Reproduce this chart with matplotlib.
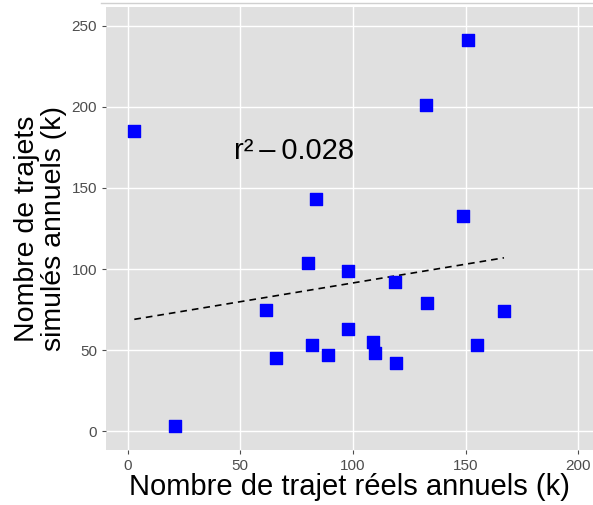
import matplotlib
matplotlib.use('Agg')
import matplotlib.pyplot as plt
import numpy as np

plt.rcParams['font.family'] = ['Liberation Sans', 'DejaVu Sans']

# trajets reels vs simules (milliers par an)
reels = [3, 21, 61.5, 66, 80, 82, 83.5, 89, 98, 98, 109, 110, 119, 118.5,
         133, 132.5, 149, 151, 155, 167]
simules = [185, 3, 75, 45, 104, 53, 143, 47, 63, 99, 55, 48, 42, 92,
           79, 201, 133, 241, 53, 74]
x_ticks = [0, 50, 100, 150, 200]
y_ticks = [0, 50, 100, 150, 200, 250]
r2_text = 'r²\u2009\u2013\u20090.028'

x = np.array(reels)
y = np.array(simules)
a, b = np.polyfit(x, y, 1)
xl = np.array([x.min(), x.max()])

fig = plt.figure(figsize=(5.93, 5.05), dpi=100)
ax = fig.add_axes([0.179, 0.109, 0.821, 0.877])
ax.set_facecolor('#e0e0e0')
ax.grid(True, color='white', linewidth=1.0)
ax.set_axisbelow(True)
for s in ax.spines.values():
    s.set_visible(False)

ax.scatter(x, y, marker='s', s=70, color='#0000ff', zorder=3)
ax.plot(xl, a * xl + b, linestyle=(0, (4, 3)), color='black', linewidth=1.2, zorder=2)
ax.text(74, 173, r2_text, fontsize=21, ha='center', va='center')

ax.set_xlim(-9.5, 206.5)
ax.set_ylim(-11.5, 261.5)
ax.set_xticks(x_ticks)
ax.set_yticks(y_ticks)
ax.tick_params(colors='#4d4d4d', labelsize=11, length=3, width=0.8)
ax.set_xlabel('Nombre de trajet réels annuels (k)', fontsize=21, labelpad=0)
ax.set_ylabel('Nombre de trajets\nsimulés annuels (k)', fontsize=20.5, labelpad=3,
              linespacing=1.05)

fig.add_artist(plt.Line2D([0.17, 1.0], [0.994, 0.994], color='#d0d0d0', linewidth=1))

fig.savefig('out.png', dpi=100)
